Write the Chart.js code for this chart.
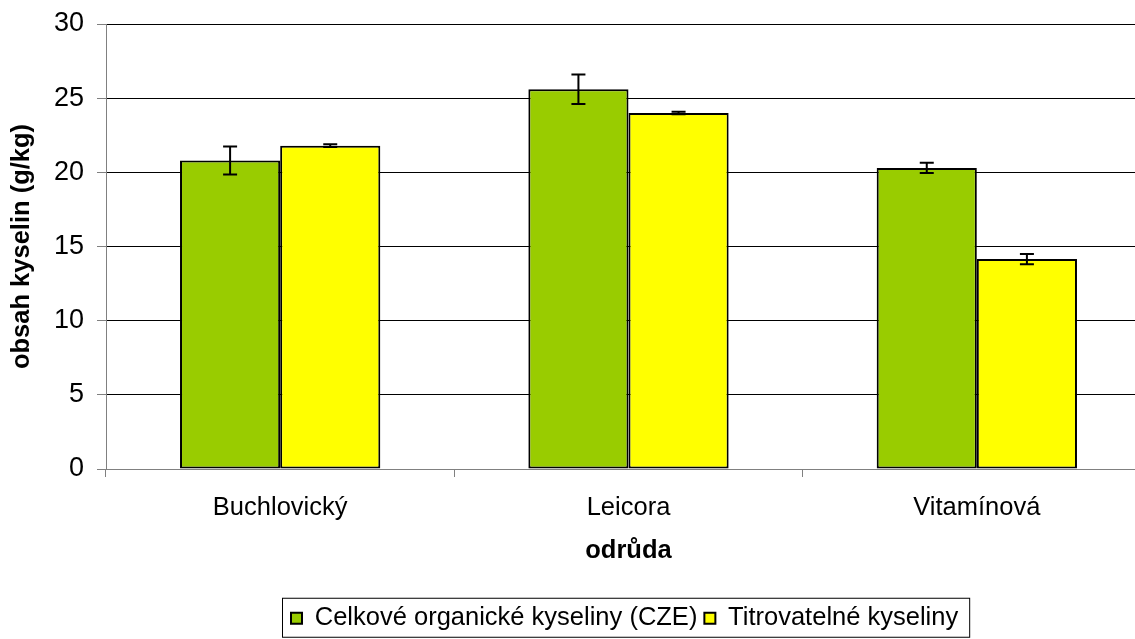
<!DOCTYPE html>
<html>
<head>
<meta charset="utf-8">
<script src="https://cdn.jsdelivr.net/npm/chart.js@4/dist/chart.umd.min.js"></script>
<style>
  html, body { margin: 0; padding: 0; background: #fff; overflow: hidden; }
  #wrap { width: 1135px; height: 639px; overflow: hidden; position: relative; }
</style>
</head>
<body>
<div id="wrap"><canvas id="acidChart" width="1200" height="639"></canvas></div>
<script>
const varieties = ["Buchlovický", "Leicora", "Vitamínová"];
const totalAcids = [20.8, 25.6, 20.3];
const totalAcidsErr = [0.95, 1.0, 0.35];
const titratableAcids = [21.8, 24.0, 14.15];
const titratableAcidsErr = [0.1, 0.08, 0.35];
const yTicks = [0, 5, 10, 15, 20, 25, 30];

const errors = [totalAcidsErr, titratableAcidsErr];

Chart.defaults.font.family = '"Liberation Sans", Arial, sans-serif';
Chart.defaults.color = "#000";

// error bars drawn on top of the bars
const errorBars = {
  id: "errorBars",
  afterDatasetsDraw(chart) {
    const ctx = chart.ctx;
    const y = chart.scales.y;
    ctx.save();
    ctx.strokeStyle = "#000";
    ctx.lineWidth = 2;
    chart.data.datasets.forEach((ds, i) => {
      const meta = chart.getDatasetMeta(i);
      meta.data.forEach((bar, j) => {
        const v = ds.data[j];
        const e = errors[i][j];
        const top = y.getPixelForValue(v + e);
        const bot = y.getPixelForValue(v - e);
        ctx.beginPath();
        ctx.moveTo(bar.x, top);
        ctx.lineTo(bar.x, bot);
        ctx.moveTo(bar.x - 7, top);
        ctx.lineTo(bar.x + 7, top);
        ctx.moveTo(bar.x - 7, bot);
        ctx.lineTo(bar.x + 7, bot);
        ctx.stroke();
      });
    });
    ctx.restore();
  },
};

// put the legend where it sits in the original and frame it
const legendFrame = {
  id: "legendFrame",
  afterLayout(chart) {
    const lg = chart.legend;
    const pad = lg.options.labels.padding;
    lg.left = 291 - pad;
    lg.right = lg.left + 900;
    lg.top += 2;
    lg.bottom += 2;
  },
  afterDraw(chart) {
    const hb = chart.legend.legendHitBoxes;
    if (!hb || !hb.length) return;
    const last = hb[hb.length - 1];
    const mid = hb[0].top + hb[0].height / 2;
    const ctx = chart.ctx;
    ctx.save();
    ctx.strokeStyle = "#000";
    ctx.lineWidth = 1;
    ctx.strokeRect(hb[0].left - 8.5, mid - 20, last.left + last.width + 12 - hb[0].left + 8, 39);
    ctx.restore();
  },
};

new Chart(document.getElementById("acidChart"), {
  type: "bar",
  data: {
    labels: varieties,
    datasets: [
      {
        label: "Celkové organické kyseliny (CZE)",
        data: totalAcids,
        backgroundColor: "#99cc00",
        borderColor: "#000",
        borderWidth: 2,
        borderSkipped: false,
      },
      {
        label: "Titrovatelné kyseliny",
        data: titratableAcids,
        backgroundColor: "#ffff00",
        borderColor: "#000",
        borderWidth: 2,
        borderSkipped: false,
      },
    ],
  },
  options: {
    responsive: false,
    animation: false,
    devicePixelRatio: 1,
    layout: { padding: { top: 24, right: 49, left: 0, bottom: 0 } },
    datasets: { bar: { barPercentage: 1.0, categoryPercentage: 0.575 } },
    plugins: {
      tooltip: { enabled: false },
      legend: {
        position: "bottom",
        align: "start",
        labels: {
          font: { size: 25.5 },
          color: "#000",
          boxWidth: 11,
          boxHeight: 11,
          padding: 7,
        },
      },
    },
    scales: {
      x: {
        grid: {
          offset: true,
          drawOnChartArea: false,
          tickLength: 8,
          tickColor: "#808080",
        },
        border: { color: "#808080", width: 1 },
        ticks: { font: { size: 25.5 }, color: "#000", padding: 16 },
        title: {
          display: true,
          text: "odrůda",
          font: { size: 25.5, weight: "bold" },
          color: "#000",
          padding: { top: 0, bottom: 30 },
        },
        afterFit(scale) {
          scale.height = 127.5;
          scale.paddingLeft = 0;
          scale.paddingRight = 0;
        },
      },
      y: {
        min: 0,
        max: 30,
        afterBuildTicks(scale) { scale.ticks = yTicks.map(v => ({ value: v })); },
        grid: {
          color: (c) => (c.tick && c.tick.value === 0 ? "#808080" : "#000"),
          tickColor: "#808080",
          tickLength: 9,
        },
        border: { color: "#808080", width: 1 },
        ticks: { font: { size: 27 }, color: "#000", padding: 13 },
        title: {
          display: true,
          text: "obsah kyselin (g/kg)",
          font: { size: 25.5, weight: "bold" },
          color: "#000",
          padding: { top: 7, bottom: 0 },
        },
        afterFit(scale) {
          scale.width = 106;
          scale.paddingTop = 0;
          scale.paddingBottom = 0;
        },
      },
    },
  },
  plugins: [errorBars, legendFrame],
});
</script>
</body>
</html>
